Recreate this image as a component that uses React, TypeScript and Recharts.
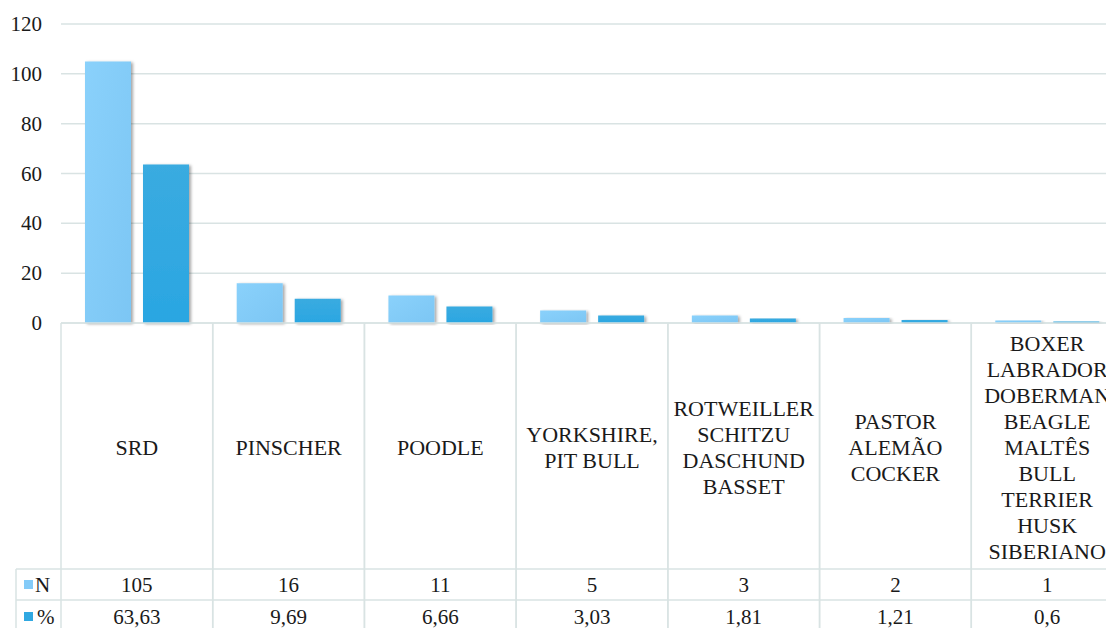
import { BarChart, Bar, XAxis, YAxis, CartesianGrid } from "recharts";

const categories: string[][] = [
  ["SRD"],
  ["PINSCHER"],
  ["POODLE"],
  ["YORKSHIRE,", "PIT BULL"],
  ["ROTWEILLER", "SCHITZU", "DASCHUND", "BASSET"],
  ["PASTOR", "ALEMÃO", "COCKER"],
  ["BOXER", "LABRADOR", "DOBERMAN", "BEAGLE", "MALTÊS", "BULL", "TERRIER", "HUSK", "SIBERIANO"],
];
const nValues = [105, 16, 11, 5, 3, 2, 1];
const pctValues = [63.63, 9.69, 6.66, 3.03, 1.81, 1.21, 0.6];
const yTicks = [0, 20, 40, 60, 80, 100, 120];

const data = categories.map((c, i) => ({
  name: c.join(" "),
  n: nValues[i],
  pct: pctValues[i],
}));

const FONT = "Liberation Serif, Tinos, DejaVu Serif, Times New Roman, serif";
const LINE = "#d9e3e3";
const TEXT = "#1a1a1a";
const N_COLOR = "#84cbf8";
const P_COLOR = "#30a8e1";

const PLOT_LEFT = 61;
const CHART_W = 1124;
const BAND = (CHART_W - 1 - PLOT_LEFT) / categories.length;

const fmt = (v: number) => String(v).replace(".", ",");

const txt = (size: number) => ({ fontFamily: FONT, fontSize: size, fill: TEXT });

function YTick(props: any) {
  const { x, y, payload } = props;
  return (
    <text x={x} y={y} textAnchor="end" dominantBaseline="central" style={txt(21)}>
      {payload.value}
    </text>
  );
}

function TableTick(props: any) {
  const { x, y, index } = props;
  const left = x - BAND / 2;
  const right = x + BAND / 2;
  const lines = categories[index];
  const lh = 26;
  const startY = y + 124 - ((lines.length - 1) * lh) / 2;
  return (
    <g>
      <line x1={left} y1={y} x2={left} y2={y + 320} stroke={LINE} strokeWidth={1.5} />
      <line x1={right} y1={y} x2={right} y2={y + 320} stroke={LINE} strokeWidth={1.5} />
      <line x1={left} y1={y + 246} x2={right} y2={y + 246} stroke={LINE} strokeWidth={1.5} />
      <line x1={left} y1={y + 277} x2={right} y2={y + 277} stroke={LINE} strokeWidth={1.5} />
      {lines.map((l, k) => (
        <text key={k} x={x} y={startY + k * lh} textAnchor="middle" dominantBaseline="central" style={txt(22)}>
          {l}
        </text>
      ))}
      <text x={x} y={y + 262} textAnchor="middle" dominantBaseline="central" style={txt(21)}>
        {nValues[index]}
      </text>
      <text x={x} y={y + 294} textAnchor="middle" dominantBaseline="central" style={txt(21)}>
        {fmt(pctValues[index])}
      </text>
      {index === 0 && (
        <g>
          <line x1={16} y1={y + 246} x2={left} y2={y + 246} stroke={LINE} strokeWidth={1.5} />
          <line x1={16} y1={y + 277} x2={left} y2={y + 277} stroke={LINE} strokeWidth={1.5} />
          <line x1={16} y1={y + 246} x2={16} y2={y + 320} stroke={LINE} strokeWidth={1.5} />
          <rect x={24} y={y + 257} width={9} height={9} fill={N_COLOR} />
          <text x={35} y={y + 262} dominantBaseline="central" style={txt(21)}>N</text>
          <rect x={24} y={y + 289} width={9} height={9} fill={P_COLOR} />
          <text x={37} y={y + 294} dominantBaseline="central" style={txt(21)}>%</text>
        </g>
      )}
    </g>
  );
}

export default function App() {
  return (
    <div style={{ position: "absolute", left: 0, top: 0, width: 1106, height: 628, overflow: "hidden", background: "#fff" }}>
      <BarChart width={CHART_W} height={640} data={data}
        margin={{ top: 24, right: 1, bottom: 0, left: 0 }} barSize={46} barGap={12}>
        <defs>
          <linearGradient id="gN" x1="0" y1="0" x2="1" y2="1">
            <stop offset="0%" stopColor="#8ad1fb" />
            <stop offset="100%" stopColor="#7cc6f4" />
          </linearGradient>
          <linearGradient id="gP" x1="0" y1="0" x2="0" y2="1">
            <stop offset="0%" stopColor="#3aabe0" />
            <stop offset="100%" stopColor="#2aa6e2" />
          </linearGradient>
          <filter id="shadow" x="-10%" y="-10%" width="130%" height="120%">
            <feDropShadow dx={2} dy={1} stdDeviation={1.5} floodColor="#000" floodOpacity={0.35} />
          </filter>
        </defs>
        <CartesianGrid vertical={false} stroke={LINE} strokeWidth={1.5} />
        <XAxis dataKey="name" height={317} interval={0} tickSize={0} tickMargin={0}
          axisLine={{ stroke: LINE, strokeWidth: 1.5 }} tickLine={false} tick={<TableTick />} />
        <YAxis width={PLOT_LEFT} domain={[0, 120]} ticks={yTicks} axisLine={false} tickLine={false}
          tickSize={0} tickMargin={19} tick={<YTick />} />
        <Bar dataKey="n" fill="url(#gN)" filter="url(#shadow)" isAnimationActive={false} />
        <Bar dataKey="pct" fill="url(#gP)" filter="url(#shadow)" isAnimationActive={false} />
      </BarChart>
    </div>
  );
}
